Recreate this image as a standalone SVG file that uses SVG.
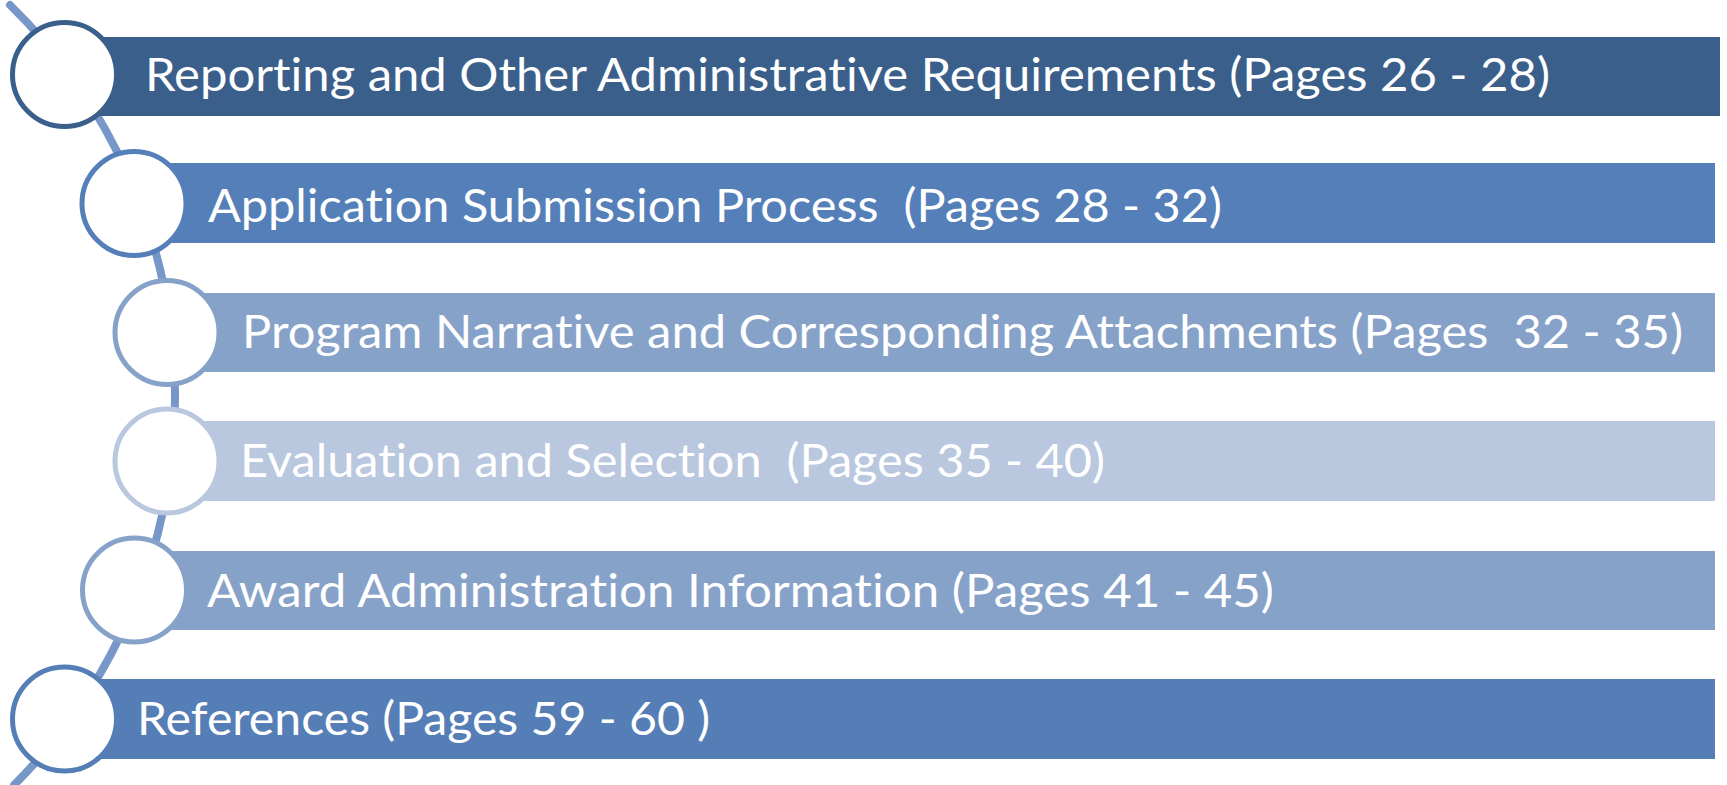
<svg xmlns="http://www.w3.org/2000/svg" width="1727" height="785" viewBox="0 0 1727 785">
<style>
.lbl{font-family:Lato,"Open Sans","Liberation Sans",sans-serif;font-size:46px;fill:#ffffff;font-variant-ligatures:none;font-feature-settings:"liga" 0,"clig" 0;}
.ring{fill:#ffffff;stroke-width:5;}
</style>
<rect x="0" y="0" width="1727" height="785" fill="#ffffff"/>
<g id="connectors">
<path d="M10,5 A548,548 0 0,1 14,785" fill="none" stroke="#7697c8" stroke-width="8" stroke-linecap="round"/>
</g>
<g id="node1">
<rect x="64.5" y="37" width="1655.5" height="79" fill="#3a5f8b"/>
<circle class="ring" cx="64.5" cy="74.5" r="52" stroke="#3b5f8b"/>
<text class="lbl" x="145" y="91" textLength="1405" lengthAdjust="spacingAndGlyphs" xml:space="preserve">Reporting and Other Administrative Requirements (Pages 26 - 28)</text>
</g>
<g id="node2">
<rect x="134" y="163" width="1581" height="80" fill="#557fb8"/>
<circle class="ring" cx="134" cy="203.5" r="52" stroke="#557fb8"/>
<text class="lbl" x="208" y="222" textLength="1014" lengthAdjust="spacingAndGlyphs" xml:space="preserve">Application Submission Process  (Pages 28 - 32)</text>
</g>
<g id="node3">
<rect x="167" y="293" width="1548" height="79" fill="#87a2c9"/>
<circle class="ring" cx="167" cy="332.5" r="52" stroke="#87a2c9"/>
<text class="lbl" x="242" y="348" textLength="1441" lengthAdjust="spacingAndGlyphs" xml:space="preserve">Program Narrative and Corresponding Attachments (Pages  32 - 35)</text>
</g>
<g id="node4">
<rect x="167" y="421" width="1548" height="80" fill="#b9c7df"/>
<circle class="ring" cx="167" cy="461" r="52" stroke="#b9c7df"/>
<text class="lbl" x="240" y="477" textLength="865" lengthAdjust="spacingAndGlyphs" xml:space="preserve">Evaluation and Selection  (Pages 35 - 40)</text>
</g>
<g id="node5">
<rect x="134.5" y="551" width="1580.5" height="79" fill="#87a2c9"/>
<circle class="ring" cx="134.5" cy="590" r="52" stroke="#87a2c9"/>
<text class="lbl" x="207" y="607" textLength="1067" lengthAdjust="spacingAndGlyphs" xml:space="preserve">Award Administration Information (Pages 41 - 45)</text>
</g>
<g id="node6">
<rect x="64.5" y="679" width="1650.5" height="80" fill="#557eb6"/>
<circle class="ring" cx="64.5" cy="719" r="52" stroke="#557eb6"/>
<text class="lbl" x="137" y="735" textLength="573" lengthAdjust="spacingAndGlyphs" xml:space="preserve">References (Pages 59 - 60 )</text>
</g>
</svg>
